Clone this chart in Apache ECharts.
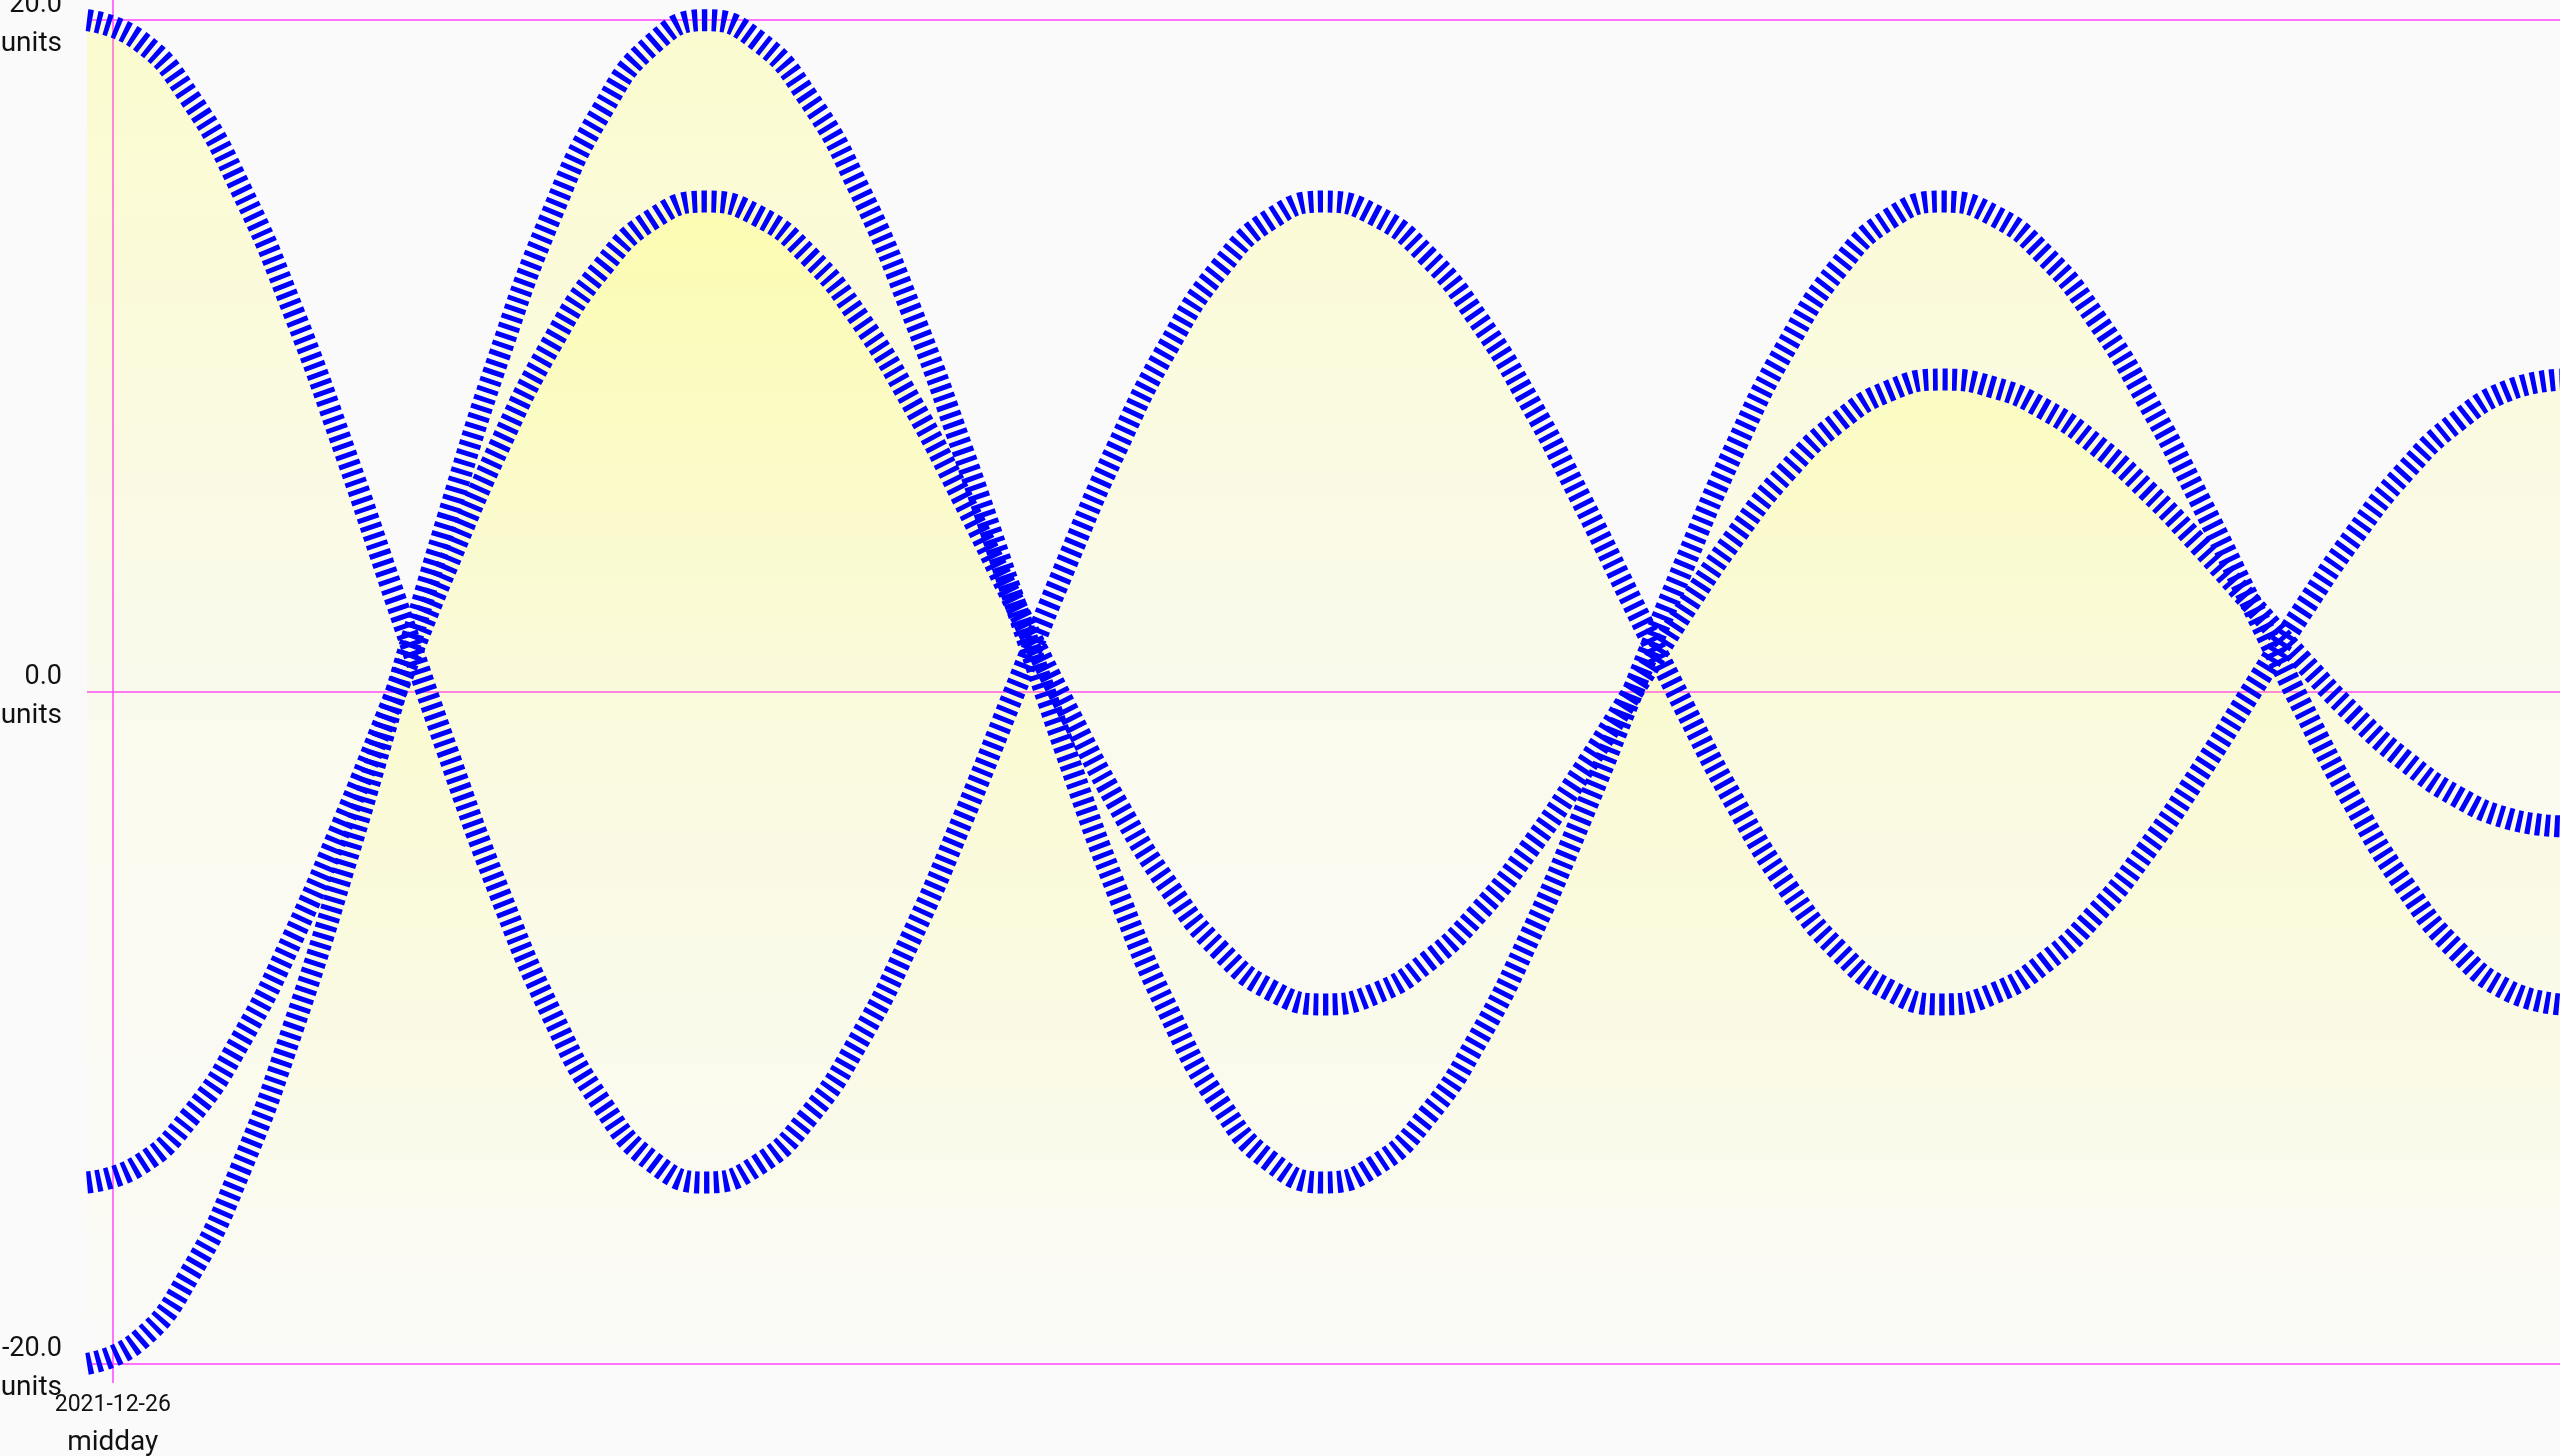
<!DOCTYPE html>
<html>
<head>
<meta charset="utf-8">
<script src="https://cdn.jsdelivr.net/npm/echarts@6/dist/echarts.min.js"></script>
<style>
html,body{margin:0;padding:0;background:#fafafa;}
#chart{width:2560px;height:1456px;}
</style>
</head>
<body>
<div id="chart"></div>
<script>
// Time stamps: every 20 minutes starting 2021-12-26 11:50 (local time)
const startTime = new Date(2021, 11, 26, 11, 50, 0).getTime();
const stepMinutes = 20;
const middayTick = new Date(2021, 11, 26, 12, 0, 0).getTime();

const yTicks = [-20, 0, 20];
const yUnit = 'units';

const seriesA = [
  20, 19.41, 17.68, 14.93, 11.35, 7.18, 2.7, -1.78, -5.95, -9.53, -12.28, -14.01, -14.6,
  -14.10, -12.64, -10.32, -7.3, -3.78, 0, 3.78, 7.3, 10.32, 12.64, 14.10, 14.6,
  14.19, 13.0, 11.10, 8.63, 5.74, 2.65, -0.44, -3.33, -5.80, -7.70, -8.89, -9.3,
  -8.98, -8.05, -6.58, -4.65, -2.41, 0, 2.41, 4.65, 6.58, 8.05, 8.98, 9.3];

const seriesB = [
  -14.6, -14.10, -12.64, -10.32, -7.3, -3.78, 0, 3.78, 7.3, 10.32, 12.64, 14.10, 14.6,
  14.19, 13.0, 11.10, 8.63, 5.74, 2.65, -0.44, -3.33, -5.80, -7.70, -8.89, -9.3,
  -8.98, -8.05, -6.58, -4.65, -2.41, 0, 2.41, 4.65, 6.58, 8.05, 8.98, 9.3,
  9.07, 8.41, 7.35, 5.98, 4.37, 2.65, 0.93, -0.68, -2.05, -3.11, -3.77, -4.0];

const seriesC = [
  -20, -19.32, -17.32, -14.14, -10, -5.18, 0, 5.18, 10, 14.14, 17.32, 19.32, 20,
  19.41, 17.68, 14.93, 11.35, 7.18, 2.7, -1.78, -5.95, -9.53, -12.28, -14.01, -14.6,
  -14.10, -12.64, -10.32, -7.3, -3.78, 0, 3.78, 7.3, 10.32, 12.64, 14.10, 14.6,
  14.19, 13.0, 11.10, 8.63, 5.74, 2.65, -0.44, -3.33, -5.80, -7.70, -8.89, -9.3];

function withTime(values) {
  return values.map((v, i) => [startTime + i * stepMinutes * 60000, v]);
}
const endTime = startTime + (seriesA.length - 1) * stepMinutes * 60000;

function pad(n) { return (n < 10 ? '0' : '') + n; }

const chart = echarts.init(document.getElementById('chart'), null, {renderer: 'canvas'});

const areaGradient = {
  type: 'linear', x: 0, y: 0, x2: 0, y2: 1,
  colorStops: [
    {offset: 0, color: 'rgba(255,255,0,0.25)'},
    {offset: 0.45, color: 'rgba(255,255,0,0.085)'},
    {offset: 1, color: 'rgba(255,255,0,0)'}
  ]
};

function makeSeries(name, values) {
  return {
    name: name,
    type: 'line',
    data: withTime(values),
    smooth: true,
    showSymbol: false,
    symbol: 'none',
    lineStyle: {color: '#0000ff', width: 22, type: [5, 4.5], cap: 'butt'},
    areaStyle: {origin: 'start', color: areaGradient},
    emphasis: {disabled: true},
    animation: false
  };
}

const option = {
  backgroundColor: '#fafafa',
  animation: false,
  grid: {left: 87, right: 0, top: 0, bottom: 73, containLabel: false, outerBoundsMode: 'none'},
  xAxis: {
    type: 'value',
    min: startTime,
    max: endTime,
    axisLine: {show: false},
    axisTick: {show: false, customValues: [middayTick]},
    splitLine: {show: true, lineStyle: {color: '#ff44ff', width: 1.5}},
    axisLabel: {
      customValues: [middayTick],
      fontFamily: 'Roboto',
      color: '#111',
      margin: 4,
      formatter: function (v) {
        const d = new Date(v);
        const date = d.getFullYear() + '-' + pad(d.getMonth() + 1) + '-' + pad(d.getDate());
        const t = (d.getHours() === 12 && d.getMinutes() === 0) ? 'midday' : pad(d.getHours()) + ':' + pad(d.getMinutes());
        return '{d|' + date + '}\n{t|' + t + '}';
      },
      rich: {
        d: {fontFamily: 'Roboto', fontSize: 23, lineHeight: 37, color: '#111'},
        t: {fontFamily: 'Roboto', fontSize: 28, lineHeight: 37, color: '#111'}
      }
    }
  },
  yAxis: {
    type: 'value',
    min: -20.57,
    max: 20.6,
    axisLine: {show: false},
    axisTick: {show: false, customValues: yTicks},
    splitLine: {show: true, lineStyle: {color: '#ff44ff', width: 1.5}},
    axisLabel: {
      customValues: yTicks,
      fontFamily: 'Roboto',
      color: '#111',
      margin: 25,
      padding: [9, 0, 0, 0],
      formatter: function (v) { return '{v|' + v.toFixed(1) + '}\n{u|' + yUnit + '}'; },
      rich: {
        v: {fontFamily: 'Roboto', fontSize: 27, lineHeight: 39, color: '#111', align: 'right'},
        u: {fontFamily: 'Roboto', fontSize: 28, lineHeight: 39, color: '#111', align: 'right'}
      }
    }
  },
  series: [
    makeSeries('B', seriesB),
    makeSeries('A', seriesA),
    makeSeries('C', seriesC)
  ]
};
chart.setOption(option);
</script>
</body>
</html>
